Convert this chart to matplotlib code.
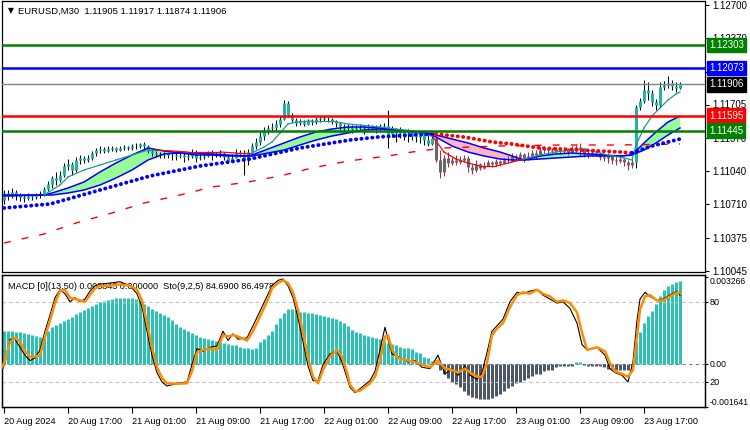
import numpy as np
import matplotlib
matplotlib.use('agg')
import matplotlib.pyplot as plt
import matplotlib.transforms as mtransforms

plt.rcParams['font.family'] = ['Liberation Sans', 'DejaVu Sans']

# --- EURUSD M30, one value per bar ---
first_open = 1.1075
closes = [
    1.1082, 1.1079, 1.1083, 1.1080, 1.1078, 1.1077, 1.1079, 1.1078, 1.1080, 1.1081,
    1.1086, 1.1091, 1.1097, 1.1095, 1.1100, 1.1109, 1.1111, 1.1105, 1.1115, 1.1117,
    1.1115, 1.1117, 1.1122, 1.1125, 1.1126, 1.1124, 1.1126, 1.1127, 1.1125, 1.1127,
    1.1128, 1.1127, 1.1129, 1.1129, 1.1131, 1.1129, 1.1124, 1.1122, 1.1121, 1.1120,
    1.1121, 1.1120, 1.1120, 1.1119, 1.1120, 1.1118, 1.1119, 1.1123, 1.1117, 1.1118,
    1.1119, 1.1122, 1.1120, 1.1121, 1.1122, 1.1118, 1.1114, 1.1117, 1.1123, 1.1121,
    1.1115, 1.1123, 1.1129, 1.1133, 1.1139, 1.1145, 1.1147, 1.1148, 1.1151, 1.1156,
    1.1172, 1.1160, 1.1155, 1.1152, 1.1153, 1.1151, 1.1154, 1.1153, 1.1156, 1.1157,
    1.1156, 1.1156, 1.1154, 1.1152, 1.1149, 1.1147, 1.1148, 1.1146, 1.1147, 1.1148,
    1.1147, 1.1149, 1.1148, 1.1146, 1.1147, 1.1149, 1.1141, 1.1145, 1.1142, 1.1144,
    1.1141, 1.1142, 1.1139, 1.1138, 1.1140, 1.1135, 1.1131, 1.1137, 1.1115, 1.1103,
    1.1117, 1.1112, 1.1115, 1.1113, 1.1115, 1.1117, 1.1108, 1.1105, 1.1111, 1.1107,
    1.1109, 1.1113, 1.1111, 1.1114, 1.1112, 1.1115, 1.1115, 1.1119, 1.1118, 1.1121,
    1.1117, 1.1119, 1.1122, 1.1120, 1.1125, 1.1127, 1.1125, 1.1124, 1.1126, 1.1124,
    1.1125, 1.1123, 1.1126, 1.1128, 1.1127, 1.1122, 1.1121, 1.1123, 1.1122, 1.1118,
    1.1117, 1.1119, 1.1115, 1.1114, 1.1116, 1.1113, 1.1110, 1.1113, 1.1168, 1.1174,
    1.1185, 1.1182, 1.1173, 1.1170, 1.1188, 1.1190, 1.1192, 1.1189, 1.1187, 1.1191,
]
highs = [
    1.1085, 1.1085, 1.1087, 1.1085, 1.1082, 1.1080, 1.1082, 1.1081, 1.1082, 1.1084,
    1.1088, 1.1094, 1.1099, 1.1103, 1.1104, 1.1112, 1.1116, 1.1113, 1.1118, 1.1120,
    1.1119, 1.1120, 1.1124, 1.1127, 1.1129, 1.1128, 1.1129, 1.1129, 1.1128, 1.1129,
    1.1130, 1.1129, 1.1131, 1.1132, 1.1132, 1.1133, 1.1130, 1.1126, 1.1124, 1.1123,
    1.1123, 1.1122, 1.1123, 1.1122, 1.1123, 1.1122, 1.1122, 1.1126, 1.1125, 1.1121,
    1.1122, 1.1124, 1.1125, 1.1123, 1.1125, 1.1123, 1.1120, 1.1121, 1.1126, 1.1125,
    1.1125, 1.1126, 1.1132, 1.1137, 1.1143, 1.1148, 1.1150, 1.1152, 1.1155, 1.1159,
    1.1175, 1.1174, 1.1162, 1.1157, 1.1156, 1.1155, 1.1156, 1.1156, 1.1158, 1.1159,
    1.1159, 1.1158, 1.1157, 1.1155, 1.1153, 1.1151, 1.1151, 1.1150, 1.1150, 1.1151,
    1.1150, 1.1151, 1.1150, 1.1150, 1.1151, 1.1152, 1.1165, 1.1149, 1.1147, 1.1148,
    1.1145, 1.1146, 1.1145, 1.1142, 1.1144, 1.1142, 1.1140, 1.1141, 1.1140, 1.1125,
    1.1120, 1.1123, 1.1118, 1.1120, 1.1119, 1.1120, 1.1119, 1.1111, 1.1115, 1.1112,
    1.1113, 1.1115, 1.1114, 1.1116, 1.1115, 1.1117, 1.1119, 1.1122, 1.1121, 1.1123,
    1.1122, 1.1123, 1.1125, 1.1125, 1.1128, 1.1129, 1.1128, 1.1127, 1.1128, 1.1127,
    1.1128, 1.1127, 1.1129, 1.1130, 1.1132, 1.1127, 1.1125, 1.1125, 1.1125, 1.1123,
    1.1121, 1.1122, 1.1120, 1.1119, 1.1119, 1.1117, 1.1115, 1.1117, 1.1170, 1.1177,
    1.1195, 1.1193, 1.1185, 1.1176, 1.1193, 1.1194, 1.1199, 1.1195, 1.1193, 1.1193,
]
lows = [
    1.1071, 1.1075, 1.1077, 1.1075, 1.1074, 1.1073, 1.1075, 1.1075, 1.1076, 1.1077,
    1.1079, 1.1084, 1.1087, 1.1090, 1.1093, 1.1098, 1.1105, 1.1100, 1.1103, 1.1111,
    1.1112, 1.1113, 1.1115, 1.1119, 1.1122, 1.1122, 1.1123, 1.1124, 1.1123, 1.1124,
    1.1125, 1.1125, 1.1125, 1.1126, 1.1127, 1.1125, 1.1122, 1.1119, 1.1118, 1.1117,
    1.1117, 1.1117, 1.1115, 1.1115, 1.1117, 1.1113, 1.1115, 1.1117, 1.1113, 1.1115,
    1.1116, 1.1118, 1.1115, 1.1118, 1.1118, 1.1115, 1.1112, 1.1113, 1.1117, 1.1118,
    1.1100, 1.1110, 1.1121, 1.1126, 1.1130, 1.1135, 1.1141, 1.1143, 1.1145, 1.1148,
    1.1155, 1.1158, 1.1153, 1.1149, 1.1150, 1.1149, 1.1150, 1.1150, 1.1151, 1.1153,
    1.1154, 1.1153, 1.1151, 1.1148, 1.1145, 1.1144, 1.1143, 1.1142, 1.1144, 1.1145,
    1.1141, 1.1146, 1.1145, 1.1142, 1.1143, 1.1144, 1.1127, 1.1138, 1.1133, 1.1137,
    1.1135, 1.1133, 1.1135, 1.1133, 1.1132, 1.1130, 1.1129, 1.1130, 1.1113, 1.1097,
    1.1099, 1.1108, 1.1110, 1.1110, 1.1111, 1.1113, 1.1103, 1.1101, 1.1103, 1.1105,
    1.1106, 1.1109, 1.1108, 1.1110, 1.1109, 1.1111, 1.1112, 1.1114, 1.1115, 1.1115,
    1.1113, 1.1115, 1.1117, 1.1116, 1.1119, 1.1122, 1.1121, 1.1121, 1.1122, 1.1121,
    1.1122, 1.1120, 1.1122, 1.1123, 1.1119, 1.1118, 1.1117, 1.1119, 1.1119, 1.1115,
    1.1114, 1.1112, 1.1111, 1.1110, 1.1112, 1.1109, 1.1105, 1.1107, 1.1107, 1.1165,
    1.1172, 1.1175, 1.1169, 1.1165, 1.1168, 1.1185, 1.1187, 1.1185, 1.1183, 1.1186,
]
down_first, down_last = 108, 157   # bars painted in the "down" colours

# moving averages, read at sample bars
band_idx = [0, 10, 12, 16, 20, 24, 28, 32, 36, 40, 44, 48, 52, 56, 60, 62, 66, 70, 74, 78,
            82, 86, 90, 94, 98, 102, 106, 108, 112, 116, 120, 124, 127, 130, 134, 138, 142,
            146, 150, 154, 157, 160, 163, 166, 169]
band_fast = [1.1080, 1.1080, 1.1082, 1.1087, 1.1093, 1.1103, 1.1112, 1.1120, 1.1127, 1.1124,
             1.1122, 1.1120, 1.1120, 1.1119, 1.1119, 1.1120, 1.1126, 1.1132, 1.1138, 1.1143,
             1.1146, 1.1148, 1.1148, 1.1147, 1.1145, 1.1143, 1.1141, 1.1138, 1.1129, 1.1123,
             1.1119, 1.1116, 1.1115, 1.1115, 1.1119, 1.1121, 1.1122, 1.1121, 1.1120, 1.1119,
             1.1120, 1.1132, 1.1143, 1.1153, 1.1159]
band_slow = [1.1079, 1.1080, 1.1080, 1.1082, 1.1085, 1.1090, 1.1097, 1.1105, 1.1115, 1.1121,
             1.1122, 1.1122, 1.1121, 1.1120, 1.1119, 1.1119, 1.1122, 1.1125, 1.1130, 1.1135,
             1.1139, 1.1142, 1.1145, 1.1146, 1.1145, 1.1144, 1.1142, 1.1140, 1.1136, 1.1132,
             1.1127, 1.1123, 1.1119, 1.1115, 1.1116, 1.1117, 1.1118, 1.1119, 1.1119, 1.1119,
             1.1120, 1.1125, 1.1132, 1.1140, 1.1147]

thin_idx = [10, 14, 16, 20, 24, 28, 32, 36, 38, 42, 46, 50, 54, 58, 62,
            65, 67, 69, 71, 73, 77, 82, 86, 94, 102, 107,
            108, 110, 113, 116, 119, 123, 127, 130,
            134, 138, 143, 147, 151, 155, 157, 158, 160, 162, 164, 166, 168, 169]
thin_val = [1.1080, 1.1090, 1.1098, 1.1105, 1.1110, 1.1115, 1.1120, 1.1125, 1.1125,
            1.1124, 1.1123, 1.1123, 1.1123, 1.1122, 1.1122,
            1.1128, 1.1133, 1.1142, 1.1151, 1.1153, 1.1154, 1.1154, 1.1151, 1.1148, 1.1144, 1.1139,
            1.1134, 1.1123, 1.1116, 1.1112, 1.1109, 1.1109, 1.1113, 1.1116,
            1.1120, 1.1123, 1.1126, 1.1124, 1.1120, 1.1117, 1.1115, 1.1130, 1.1147, 1.1159,
            1.1167, 1.1175, 1.1181, 1.1183]
thin_red = [(38, 62), (107, 130)]

dot_idx = [0, 11.5, 24, 36.5, 49, 61.5, 74, 86.5, 93.5, 102, 107, 108, 115, 122, 127, 134,
           144, 149, 154, 157, 159, 162, 165, 168, 169]
dot_val = [1.1067, 1.1071, 1.1085, 1.1099, 1.1109, 1.1116, 1.1127, 1.1135, 1.1138, 1.1140,
           1.1141, 1.1141, 1.1138, 1.1133, 1.1131, 1.1127, 1.1125, 1.1124, 1.1123, 1.1122,
           1.1125, 1.1129, 1.1132, 1.1135, 1.1136]
dot_red = (108, 157)

long_idx = [0, 10, 18, 27, 35, 43, 52, 61, 69, 77, 86, 96, 102, 110, 124, 139, 154, 169]
long_val = [1.1032, 1.1041, 1.1052, 1.1062, 1.1072, 1.1079, 1.1088, 1.1093, 1.1099, 1.1107,
            1.1114, 1.1119, 1.1123, 1.1127, 1.1129, 1.1130, 1.1130, 1.1131]

levels = [1.12303, 1.12073, 1.11906, 1.11595, 1.11445]
level_colors = ['#008000', '#0000FF', '#778899', '#FF0000', '#008000']
level_box = ['#008000', '#0000FF', '#000000', '#FF0000', '#008000']
level_width = [1.8, 1.8, 1.0, 1.8, 1.8]
price_ticks = [1.12700, 1.12370, 1.12035, 1.11705, 1.11370, 1.11040, 1.10710, 1.10375, 1.10045]

# MACD(13,50) histogram, one per bar
macd = [
    0.00124, 0.00124, 0.00124, 0.00120, 0.00120, 0.00116, 0.00113, 0.00109, 0.00105, 0.00101,
    0.00105, 0.00124, 0.00139, 0.00146, 0.00154, 0.00161, 0.00169, 0.00176, 0.00188, 0.00195,
    0.00203, 0.00210, 0.00218, 0.00225, 0.00233, 0.00236, 0.00240, 0.00244, 0.00248, 0.00248,
    0.00248, 0.00248, 0.00248, 0.00244, 0.00236, 0.00225, 0.00218, 0.00206, 0.00199, 0.00191,
    0.00184, 0.00176, 0.00165, 0.00150, 0.00139, 0.00131, 0.00124, 0.00116, 0.00109, 0.00101,
    0.00098, 0.00094, 0.00090, 0.00086, 0.00083, 0.00079, 0.00075, 0.00071, 0.00068, 0.00064,
    0.00060, 0.00060, 0.00056, 0.00060, 0.00083, 0.00094, 0.00109, 0.00124, 0.00150, 0.00173,
    0.00191, 0.00206, 0.00206, 0.00203, 0.00195, 0.00195, 0.00191, 0.00191, 0.00188, 0.00184,
    0.00180, 0.00176, 0.00173, 0.00169, 0.00161, 0.00154, 0.00143, 0.00128, 0.00120, 0.00116,
    0.00109, 0.00105, 0.00101, 0.00098, 0.00094, 0.00086, 0.00079, 0.00075, 0.00068, 0.00064,
    0.00060, 0.00060, 0.00053, 0.00045, 0.00038, 0.00026, 0.00019, 0.00011, 0.00004, -0.00023,
    -0.00041, -0.00056, -0.00068, -0.00079, -0.00090, -0.00105, -0.00120, -0.00128, -0.00131, -0.00135,
    -0.00135, -0.00135, -0.00131, -0.00124, -0.00116, -0.00105, -0.00094, -0.00086, -0.00075, -0.00071,
    -0.00064, -0.00056, -0.00049, -0.00041, -0.00038, -0.00030, -0.00026, -0.00023, -0.00015, -0.00011,
    -0.00011, -0.00008, -0.00008, 0.00004, 0.00004, -0.00004, -0.00008, -0.00008, -0.00011, -0.00011,
    -0.00015, -0.00019, -0.00019, -0.00023, -0.00023, -0.00023, -0.00023, -0.00015, 0.00083, 0.00120,
    0.00154, 0.00180, 0.00199, 0.00225, 0.00255, 0.00278, 0.00293, 0.00300, 0.00308, 0.00311,
]

# Stochastic(9,2,5), read at sample bars
sto_idx = [-0.5, 0.25, 1.5, 2.75, 4, 5.25, 6.5, 7.75, 9, 10.25,
           11.5, 12.75, 14, 15.25, 16.5, 17.75, 19, 20.25, 21.5, 22.75,
           24, 26.5, 29, 31.5, 33.25, 34.5, 35.75, 37, 38.25, 39.5,
           40.75, 43.25, 45.75, 47, 48.25, 49.75, 51.5, 53.25, 54.75, 56,
           57.25, 58.5, 60.75, 62.25, 64, 65.75, 67, 68.5, 69.75, 71,
           72.25, 73.5, 74.75, 76, 77.25, 78.5, 79.75, 81.5, 83.25, 84.5,
           85.75, 86.5, 87.75, 89, 91.5, 92.75, 94, 95.25, 96, 97,
           98.5, 101, 102.75, 104.5, 106.5, 108.5, 110.25, 112, 113.5, 115.25,
           116.5, 118.25, 119.5, 120.75, 122, 123.25, 124.75, 126.5, 128.25, 129.75,
           131.5, 133.25, 134.75, 136.5, 138.25, 139.75, 141.5, 143.25, 144.5, 145.75,
           148.25, 150.25, 151.5, 152.75, 154.5, 156, 157.25, 158.25, 159, 160.25,
           161.5, 163.25, 164.75, 166.5, 168.25, 169]
sto_signal = [31, 36, 50, 53, 50, 43, 39, 39, 40, 54,
              66, 79, 88, 89, 83, 82, 81, 80, 85, 90,
              92, 92, 93, 92, 89, 81, 64, 46, 31, 23,
              19, 18.7, 19, 28, 42, 44, 45, 44, 55, 54,
              55, 54, 51, 58, 69, 80, 90, 94, 96, 94,
              87, 74, 57, 38, 24, 19, 29, 39, 44, 39,
              27, 18, 13, 13.5, 19, 24, 36, 54, 55, 44,
              38, 36, 35, 33, 31, 36, 30, 29, 27, 30,
              27, 24, 24, 34, 55, 60, 64, 76, 85, 87,
              86, 89, 86, 84, 80, 81, 79, 72, 57, 44,
              46, 43, 34, 28, 26, 24, 29, 54, 74, 84,
              85, 81, 81, 84, 87, 86.5]
sto_main = [28, 35, 52, 52, 46, 40, 36, 38, 44, 58,
            70, 83, 89, 86, 80, 83, 80, 82, 88, 92,
            93, 94, 95, 92, 86, 76, 58, 40, 27, 20,
            17, 19, 20, 33, 45, 43, 46, 47, 58, 51,
            56, 52, 53, 62, 73, 84, 92, 96, 97, 92,
            83, 68, 50, 32, 21, 21, 33, 41, 43, 35,
            23, 16, 12, 15, 21, 28, 44, 61, 52, 41,
            39, 35, 36, 31, 30, 40, 26, 30, 25, 32,
            25, 22, 27, 42, 58, 62, 67, 80, 87, 86,
            88, 89, 85, 82, 79, 80, 75, 64, 48, 44,
            46, 40, 30, 27, 25, 20, 35, 66, 82, 87,
            84, 81, 82, 85, 88, 84.7]

time_ticks = [0, 16, 32, 48, 64, 80, 96, 112, 128, 144, 160]
time_labels = ['20 Aug 2024', '20 Aug 17:00', '21 Aug 01:00', '21 Aug 09:00', '21 Aug 17:00',
               '22 Aug 01:00', '22 Aug 09:00', '22 Aug 17:00', '23 Aug 01:00', '23 Aug 09:00',
               '23 Aug 17:00']

TEAL = '#22B2A6'
GREY = '#686868'
WICK_DOWN = '#C41E3A'
BAR_LW = 3 * 72 / 100   # 3 pixels

fig = plt.figure(figsize=(7.5, 4.3), dpi=100)
ax = fig.add_axes([2 / 750, 158 / 430, 703 / 750, 271 / 430])
axm = fig.add_axes([2 / 750, 23 / 430, 703 / 750, 132 / 430])

n = len(closes)
x = np.arange(n)
opens = np.array([first_open] + closes[:-1])
c = np.array(closes)
is_down = (x >= down_first) & (x <= down_last)
body_col = [GREY if d else TEAL for d in is_down]
wick_col = [WICK_DOWN if d else 'black' for d in is_down]

# band between the two averages
bf = np.array(band_fast)
bs = np.array(band_slow)
ax.fill_between(band_idx, bf, bs, where=bf >= bs, interpolate=True, color='#98FB98', lw=0, zorder=1)
ax.fill_between(band_idx, bf, bs, where=bf < bs, interpolate=True, color='#FFB6C1', lw=0, zorder=1)

# candles
ax.vlines(x, lows, highs, colors=wick_col, linewidth=0.75, zorder=2)
ax.vlines(x, opens, c, colors=body_col, linewidth=BAR_LW, capstyle='butt', zorder=3)

ax.plot(band_idx, band_fast, color='#0000FF', lw=1.1, zorder=4)
ax.plot(band_idx, band_slow, color='#0000FF', lw=1.1, zorder=4)

# thin fast average, red while in the down phases
for k in range(len(thin_idx) - 1):
    mid = (thin_idx[k] + thin_idx[k + 1]) / 2
    red = any(a <= mid <= b for a, b in thin_red)
    ax.plot(thin_idx[k:k + 2], thin_val[k:k + 2], color='#FF0000' if red else '#1E9A94',
            lw=0.9, zorder=4)

# dotted average
di = np.array(dot_idx)
dv = np.array(dot_val)
dot_style = dict(lw=2.8, ls=(0, (0.05, 1.35)), dash_capstyle='round', zorder=5)
m1 = di <= dot_red[0]
m2 = (di >= dot_red[0]) & (di <= dot_red[1])
m3 = di >= dot_red[1]
ax.plot(di[m1], dv[m1], color='#0000FF', **dot_style)
ax.plot(di[m2], dv[m2], color='#FF0000', **dot_style)
ax.plot(di[m3], dv[m3], color='#0000FF', **dot_style)

ax.plot(long_idx, long_val, color='#FF0000', lw=1.0, ls=(0, (5, 8)), zorder=4)

for lv, lc, lw in zip(levels, level_colors, level_width):
    ax.axhline(lv, color=lc, lw=lw, zorder=6)

ax.set_xlim(-0.5, 175.25)
ax.set_ylim(1.1003, 1.1274)
ax.set_xticks([])
ax.yaxis.tick_right()
ax.set_yticks(price_ticks)
ax.set_yticklabels(['%.5f' % t for t in price_ticks])
ax.tick_params(axis='y', direction='out', length=3, width=0.8, pad=2, labelsize=7)

tr = mtransforms.blended_transform_factory(ax.transAxes, ax.transData)
for lv, bc in zip(levels, level_box):
    ax.text(1.0 + 4 / 703, lv, '%.5f' % lv, transform=tr, ha='left', va='center',
            fontsize=7, color='white', zorder=10, clip_on=False,
            bbox=dict(boxstyle='square,pad=0.22', fc=bc, ec=bc))

fig.text(8 / 750, 1 - 11 / 430, '\u25bc', fontsize=5.5, va='center', ha='left',
         family=['DejaVu Sans'])
fig.text(18 / 750, 1 - 11 / 430, 'EURUSD,M30  1.11905 1.11917 1.11874 1.11906',
         fontsize=6.8, va='center', ha='left', color='#000000')

# --- MACD + Stochastic panel ---
mv = np.array(macd)
axm.vlines(x, 0, mv, colors=np.where(mv >= 0, '#2CC1B5', '#4D5866'), linewidth=BAR_LW,
           capstyle='butt', zorder=2)
axm.axhline(0, color='#708090', lw=0.8, ls=(0, (3, 3)), zorder=1)
axm.set_xlim(-0.5, 175.25)
axm.set_ylim(-0.00163, 0.00334)
axm.set_xticks(time_ticks)
axm.set_xticklabels(time_labels)
for lb in axm.get_xticklabels():
    lb.set_ha('left')
axm.tick_params(axis='x', direction='out', length=4, width=0.8, pad=3, labelsize=6.6)

axs = axm.twinx()
axs.set_ylim(1.3, 100)
axs.set_yticks([80, 20])
axs.set_yticklabels(['80', '20'])
axs.tick_params(axis='y', direction='out', length=2, width=0.8, pad=1, labelsize=6.6)
axs.axhline(80, color='#C0C0C0', lw=0.8, ls=(0, (3, 3)), zorder=1)
axs.axhline(20, color='#C0C0C0', lw=0.8, ls=(0, (3, 3)), zorder=1)
axs.plot(sto_idx, sto_main, color='black', lw=0.8, zorder=3)
axs.plot(sto_idx, sto_signal, color='#FF8C00', lw=1.8, zorder=4)

# twinx() moves the MACD ticks to the left, put them back on the right
axm.yaxis.tick_right()
axm.set_yticks([0.003266, 0.0, -0.001641])
axm.set_yticklabels(['0.003266', '0.00', '-0.001641'])
labs = axm.get_yticklabels()
labs[0].set_va('top')
labs[2].set_va('bottom')
axm.tick_params(axis='y', direction='out', length=2, width=0.8, pad=1, labelsize=6.2)

axm.text(6 / 703, 0.95, 'MACD [0](13,50) 0.003843 0.000000  Sto(9,2,5) 84.6900 86.4978',
         transform=axm.transAxes, fontsize=6.6, va='top', ha='left', zorder=0)

for a in (ax, axm, axs):
    for sp in a.spines.values():
        sp.set_color('black')
        sp.set_linewidth(0.9)

fig.savefig('out.png', dpi=100)
